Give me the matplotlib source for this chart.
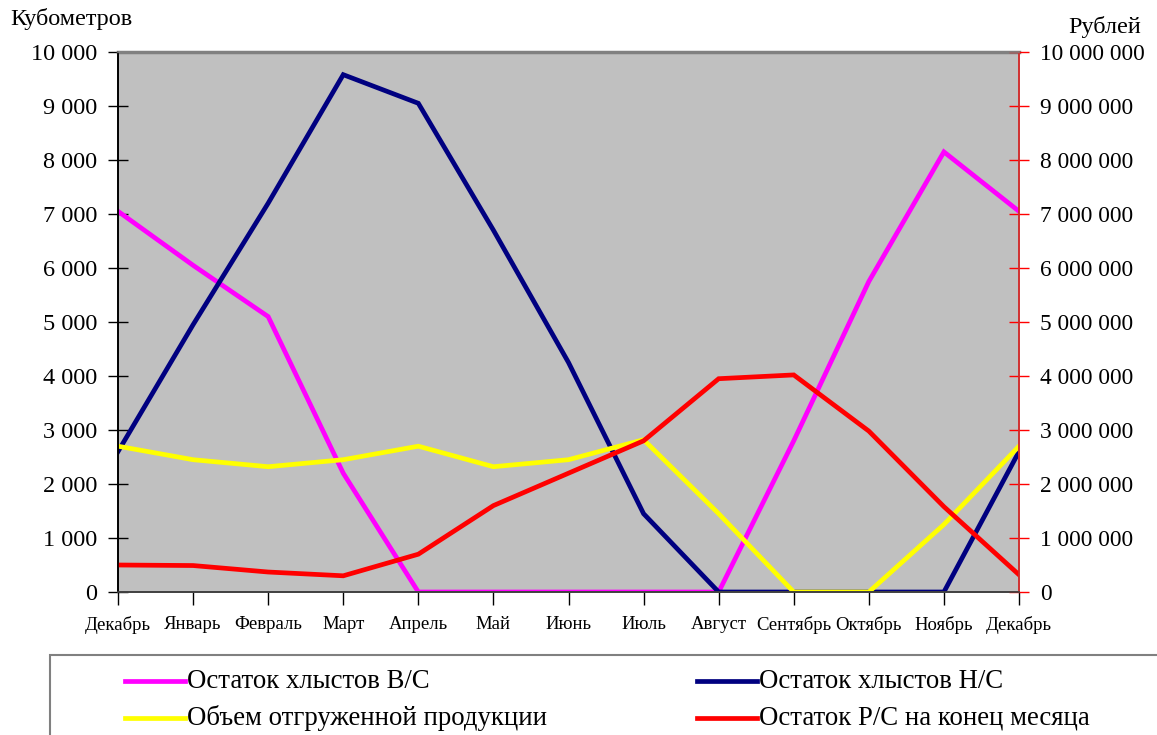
import matplotlib
matplotlib.use("Agg")
import matplotlib.pyplot as plt
from matplotlib.lines import Line2D
from matplotlib.patches import Rectangle
from matplotlib.ticker import FuncFormatter

plt.rcParams['font.family'] = ['Liberation Serif', 'DejaVu Serif']

months = ["Декабрь", "Январь", "Февраль", "Март", "Апрель", "Май", "Июнь",
          "Июль", "Август", "Сентябрь", "Октябрь", "Ноябрь", "Декабрь"]

# кубометры
ostatok_vs = [7050, 6050, 5100, 2200, 0, 0, 0, 0, 0, 2800, 5750, 8150, 7050]
ostatok_ns = [2600, 4950, 7200, 9580, 9050, 6700, 4250, 1450, 0, 0, 0, 0, 2600]
otgruzka = [2700, 2450, 2320, 2450, 2700, 2320, 2450, 2820, 1450, 0, 0, 1250, 2700]
# рубли
ostatok_rs = [500000, 490000, 370000, 300000, 700000, 1600000, 2200000,
              2800000, 3950000, 4020000, 2980000, 1580000, 320000]

labels = ["Остаток хлыстов В/С", "Остаток хлыстов Н/С",
          "Объем отгруженной продукции", "Остаток Р/С на конец месяца"]
colors = ["#FF00FF", "#000080", "#FFFF00", "#FF0000"]

W, H = 1157, 735
fig = plt.figure(figsize=(W / 100, H / 100), dpi=100)
ax = fig.add_axes([118 / W, 1 - 592 / H, (1019 - 118) / W, (592 - 52) / H])
ax.set_facecolor("#C0C0C0")

LW = 3.4
x = list(range(len(months)))
ax.plot(x, ostatok_vs, color=colors[0], lw=LW, solid_joinstyle='miter')
ax.plot(x, ostatok_ns, color=colors[1], lw=LW, solid_joinstyle='miter')
ax.plot(x, otgruzka, color=colors[2], lw=LW, solid_joinstyle='miter')

ax2 = ax.twinx()
ax2.plot(x, ostatok_rs, color=colors[3], lw=LW, solid_joinstyle='miter')

ax.set_xlim(0, len(months) - 1)
ax.set_ylim(0, 10000)
ax2.set_ylim(0, 10000000)
ax.set_yticks(range(0, 10001, 1000))
ax2.set_yticks(range(0, 10000001, 1000000))
ax.set_xticks(x)
ax.set_xticklabels(months, fontsize=13.5)

fmt = FuncFormatter(lambda v, p: f"{int(v):,}".replace(",", " "))
ax.yaxis.set_major_formatter(fmt)
ax2.yaxis.set_major_formatter(fmt)

ax.tick_params(axis='y', direction='inout', length=14, width=1, labelsize=17.5, pad=8)
ax.tick_params(axis='x', direction='out', length=9, width=1, pad=8)
ax2.tick_params(axis='y', direction='inout', length=14, width=1, colors='#FF0000',
                labelcolor='black', labelsize=16.8, pad=8)

for a in (ax, ax2):
    a.spines['top'].set_color('#808080')
    a.spines['left'].set_color('black')
    a.spines['bottom'].set_color('#404040')
    a.spines['right'].set_color('#D03030')
    for s in a.spines.values():
        s.set_linewidth(1.2)
ax.spines['top'].set_linewidth(2.5)

fig.text(10 / W, 1 - 19 / H, "Кубометров", fontsize=17.5, va='center', ha='left')
fig.text(1141 / W, 1 - 27 / H, "Рублей", fontsize=17.5, va='center', ha='right')

# легенда внизу
fig.add_artist(Rectangle((50 / W, -0.1), 1.2, (1 - 655 / H) + 0.1,
                         transform=fig.transFigure, facecolor='white',
                         edgecolor='#808080', lw=1.5, clip_on=False))
slots = [(125, 681), (697, 681), (125, 718), (697, 718)]
for (px, py), lab, c in zip(slots, labels, colors):
    y = 1 - py / H
    fig.add_artist(Line2D([px / W, (px + 60) / W], [y, y], color=c, lw=LW,
                          transform=fig.transFigure))
    fig.text((px + 62) / W, y, lab, fontsize=19.3, va='center', ha='left')

fig.savefig("out.png", dpi=100)
